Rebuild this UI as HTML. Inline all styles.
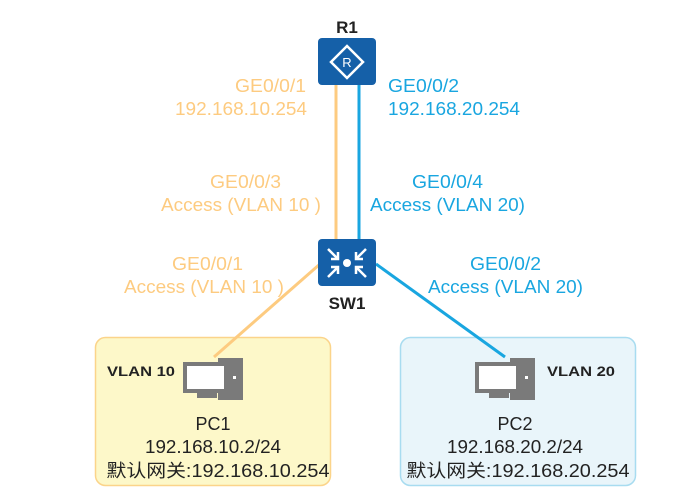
<!DOCTYPE html>
<html><head><meta charset="utf-8"><style>
body{margin:0;background:#fff;}
svg{display:block;font-family:"Liberation Sans","Noto Sans CJK SC",sans-serif;}
</style></head><body>
<svg width="690" height="494" viewBox="0 0 690 494">
<rect x="95.5" y="337.5" width="235" height="148" rx="10" fill="#fdf8c9" stroke="#fbd48a" stroke-width="1.5"/>
<rect x="400.5" y="337.5" width="235" height="148" rx="10" fill="#e9f5fa" stroke="#a8dcf0" stroke-width="1.5"/>
<line x1="336" y1="85" x2="336" y2="240" stroke="#fdcb80" stroke-width="3"/>
<line x1="359" y1="85" x2="359" y2="240" stroke="#19a6e0" stroke-width="3"/>
<line x1="320" y1="264" x2="214" y2="357" stroke="#fdcb80" stroke-width="3"/>
<line x1="376" y1="264" x2="505" y2="357" stroke="#19a6e0" stroke-width="3"/>
<!-- R1 -->
<rect x="318" y="38" width="58" height="47" rx="4" fill="#1560a8"/>
<polygon points="347,46 363,62 347,78 331,62" fill="none" stroke="#fff" stroke-width="2.5"/>
<text x="347" y="67" font-size="13" fill="#fff" text-anchor="middle">R</text>
<text x="347" y="33" font-size="17" font-weight="bold" fill="#222" text-anchor="middle">R1</text>
<!-- SW1 -->
<rect x="318" y="239" width="58" height="47" rx="4" fill="#1560a8"/>
<g stroke="#fff" stroke-width="2.5" fill="none">
<path d="M328,249 L338,259 M338,252 L338,259 L331,259"/>
<path d="M366,249 L356,259 M356,252 L356,259 L363,259"/>
<path d="M328,277 L338,267 M338,274 L338,267 L331,267"/>
<path d="M366,277 L356,267 M356,274 L356,267 L363,267"/>
</g>
<circle cx="347" cy="263" r="4" fill="#fff"/>
<text x="347" y="309" font-size="17" font-weight="bold" fill="#222" text-anchor="middle">SW1</text>
<!-- labels -->
<g font-size="18" fill="#fdcb80">
<text x="235" y="92" textLength="71" lengthAdjust="spacingAndGlyphs">GE0/0/1</text>
<text x="175" y="115" textLength="132" lengthAdjust="spacingAndGlyphs">192.168.10.254</text>
<text x="210" y="188" textLength="71" lengthAdjust="spacingAndGlyphs">GE0/0/3</text>
<text x="161" y="211" textLength="160" lengthAdjust="spacingAndGlyphs">Access (VLAN 10 )</text>
<text x="172" y="270" textLength="71" lengthAdjust="spacingAndGlyphs">GE0/0/1</text>
<text x="124" y="293" textLength="160" lengthAdjust="spacingAndGlyphs">Access (VLAN 10 )</text>
</g>
<g font-size="18" fill="#19a6e0">
<text x="388" y="92" textLength="71" lengthAdjust="spacingAndGlyphs">GE0/0/2</text>
<text x="388" y="115" textLength="132" lengthAdjust="spacingAndGlyphs">192.168.20.254</text>
<text x="412" y="188" textLength="71" lengthAdjust="spacingAndGlyphs">GE0/0/4</text>
<text x="370" y="211" textLength="155" lengthAdjust="spacingAndGlyphs">Access (VLAN 20)</text>
<text x="470" y="270" textLength="71" lengthAdjust="spacingAndGlyphs">GE0/0/2</text>
<text x="428" y="293" textLength="155" lengthAdjust="spacingAndGlyphs">Access (VLAN 20)</text>
</g>
<!-- PC1 -->
<g fill="#7a7a7a">
<rect x="218" y="358" width="25" height="42"/>
<rect x="183" y="362" width="45" height="31"/>
<rect x="197" y="393" width="20" height="5"/>
</g>
<rect x="187" y="366" width="37" height="23" fill="#fff"/>
<rect x="233" y="376" width="3" height="3" fill="#fff"/>
<text x="107" y="376" font-size="14" font-weight="bold" fill="#222" textLength="68" lengthAdjust="spacingAndGlyphs">VLAN 10</text>
<g font-size="18" fill="#222" text-anchor="middle">
<text x="213" y="430">PC1</text>
<text x="213" y="453" textLength="136" lengthAdjust="spacingAndGlyphs">192.168.10.2/24</text>
<text x="218" y="477" textLength="223" lengthAdjust="spacingAndGlyphs">默认网关:192.168.10.254</text>
</g>
<!-- PC2 -->
<g fill="#7a7a7a">
<rect x="510" y="358" width="25" height="42"/>
<rect x="475" y="362" width="45" height="31"/>
<rect x="489" y="393" width="20" height="5"/>
</g>
<rect x="479" y="366" width="37" height="23" fill="#fff"/>
<rect x="525" y="376" width="3" height="3" fill="#fff"/>
<text x="547" y="376" font-size="14" font-weight="bold" fill="#222" textLength="68" lengthAdjust="spacingAndGlyphs">VLAN 20</text>
<g font-size="18" fill="#222" text-anchor="middle">
<text x="515" y="430">PC2</text>
<text x="515" y="453" textLength="136" lengthAdjust="spacingAndGlyphs">192.168.20.2/24</text>
<text x="518" y="477" textLength="223" lengthAdjust="spacingAndGlyphs">默认网关:192.168.20.254</text>
</g>
</svg>
</body></html>
